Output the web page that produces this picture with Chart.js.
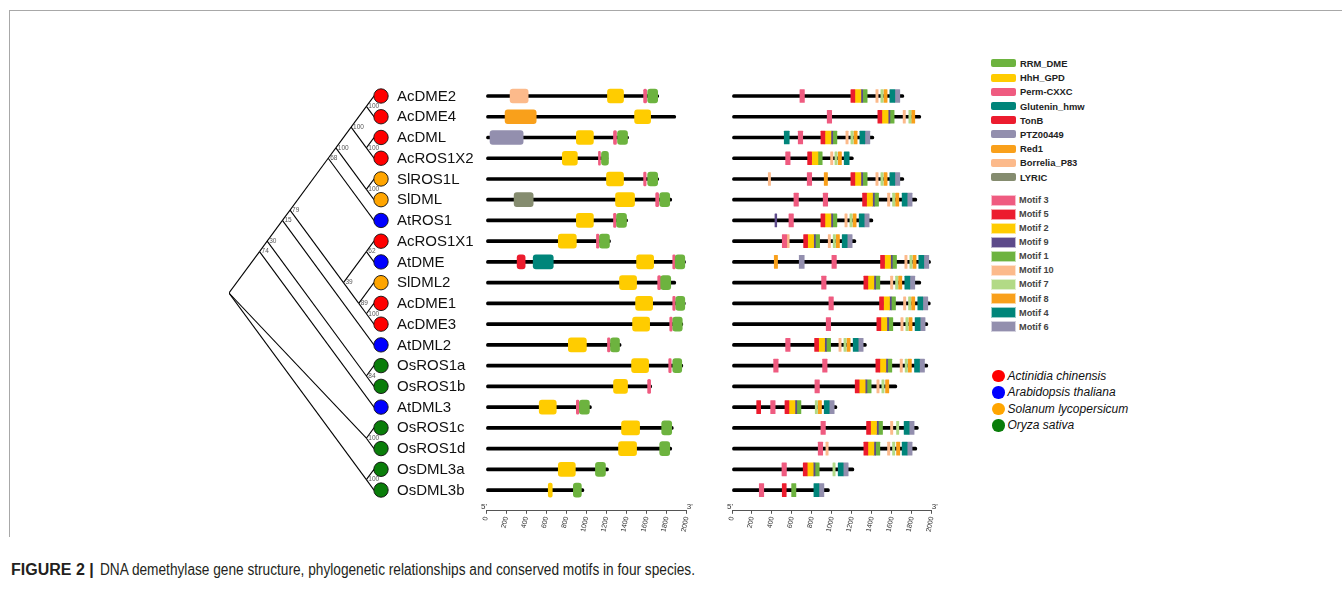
<!DOCTYPE html>
<html>
<head>
<meta charset="utf-8">
<script src="https://cdn.jsdelivr.net/npm/chart.js@4.4.1/dist/chart.umd.min.js"></script>
<style>
  body { margin: 0; background: #fff; font-family: "Liberation Sans", Arial, sans-serif; }
  canvas { position: absolute; }
  .row { position: absolute; display: flex; align-items: center; white-space: nowrap; }
  .frame { position: absolute; background: #a8a8a8; }
</style>
</head>
<body>
<div class="frame" style="left:9px;top:10px;width:1333px;height:1px"></div>
<div class="frame" style="left:9px;top:10px;width:1px;height:527px"></div>

<canvas id="tree" width="275" height="481" style="left:219px;top:70px"></canvas>
<canvas id="dom" width="221" height="481" style="left:476px;top:70px"></canvas>
<canvas id="mot" width="220" height="481" style="left:722px;top:70px"></canvas>

<div id="legend"></div>

<div id="caption" style="position:absolute;left:11px;top:562px;height:16px;line-height:16px;font-size:16px;color:#231f20">
  <span style="font-weight:bold;position:absolute;left:0;white-space:nowrap">FIGURE 2 |</span>
  <span id="capText" style="position:absolute;left:89px;white-space:nowrap;transform-origin:0 50%">DNA demethylase gene structure, phylogenetic relationships and conserved motifs in four species.</span>
</div>

<script>
// ---- data ----
const newick = "(((((((((AcDME2,AcDME4)100,(AcDML,AcROS1X2)100)100,(SlROS1L,SlDML)100)100,AtROS1)68,((AcROS1X1,AtDME)62,(SlDML2,(AcDME1,AcDME3)100)89)39)79,AtDML2)15,(OsROS1a,OsROS1b)84)30,AtDML3)74,(OsROS1c,OsROS1d)100,(OsDML3a,OsDML3b)100)";

const genes = ['AcDME2','AcDME4','AcDML','AcROS1X2','SlROS1L','SlDML','AtROS1','AcROS1X1','AtDME','SlDML2',
               'AcDME1','AcDME3','AtDML2','OsROS1a','OsROS1b','AtDML3','OsROS1c','OsROS1d','OsDML3a','OsDML3b'];
const species = ['Ac','Ac','Ac','Ac','Sl','Sl','At','Ac','At','Sl','Ac','Ac','At','Os','Os','At','Os','Os','Os','Os'];
const proteinLen = [1720,1890,1420,1215,1720,1850,1410,1240,1987,1890,1985,1960,1345,1960,1650,1050,1865,1850,1220,975];

const speciesNames = ['Actinidia chinensis','Arabidopsis thaliana','Solanum lycopersicum','Oryza sativa'];
const speciesCodes = ['Ac','At','Sl','Os'];

const domainNames = ['RRM_DME','HhH_GPD','Perm-CXXC','Glutenin_hmw','TonB','PTZ00449','Red1','Borrelia_P83','LYRIC'];
const domainHits = [
  [['Borrelia_P83',240,420],['HhH_GPD',1210,1370],['Perm-CXXC',1570,1600],['RRM_DME',1610,1710]],
  [['Red1',190,500],['HhH_GPD',1480,1640]],
  [['PTZ00449',40,370],['HhH_GPD',900,1070],['Perm-CXXC',1270,1300],['RRM_DME',1310,1410]],
  [['HhH_GPD',760,910],['Perm-CXXC',1120,1140],['RRM_DME',1150,1220]],
  [['HhH_GPD',1200,1370],['Perm-CXXC',1570,1595],['RRM_DME',1610,1710]],
  [['LYRIC',280,470],['HhH_GPD',1290,1480],['Perm-CXXC',1690,1720],['RRM_DME',1730,1830]],
  [['HhH_GPD',900,1070],['Perm-CXXC',1270,1295],['RRM_DME',1300,1400]],
  [['HhH_GPD',720,900],['Perm-CXXC',1100,1125],['RRM_DME',1130,1230]],
  [['TonB',310,390],['Glutenin_hmw',470,670],['HhH_GPD',1500,1670],['Perm-CXXC',1860,1885],['RRM_DME',1885,1980]],
  [['HhH_GPD',1330,1500],['Perm-CXXC',1710,1740],['RRM_DME',1740,1840]],
  [['HhH_GPD',1490,1660],['Perm-CXXC',1860,1885],['RRM_DME',1890,1980]],
  [['HhH_GPD',1460,1630],['Perm-CXXC',1830,1855],['RRM_DME',1860,1955]],
  [['HhH_GPD',820,1000],['Perm-CXXC',1210,1235],['RRM_DME',1240,1330]],
  [['HhH_GPD',1450,1620],['Perm-CXXC',1820,1845],['RRM_DME',1860,1950]],
  [['HhH_GPD',1270,1410],['Perm-CXXC',1610,1640]],
  [['HhH_GPD',530,700],['Perm-CXXC',900,925],['RRM_DME',930,1030]],
  [['HhH_GPD',1350,1530],['RRM_DME',1750,1850]],
  [['HhH_GPD',1320,1500],['RRM_DME',1730,1830]],
  [['HhH_GPD',720,890],['RRM_DME',1090,1190]],
  [['HhH_GPD',620,660],['RRM_DME',870,950]]
];

const motifOrder = [3,5,2,9,1,10,7,8,4,6];
const motifLen = {1:43, 2:60, 3:45, 4:50, 5:40, 6:50, 7:23, 8:33, 9:18, 10:23};
const motifHits = [
  [[3,680],[5,1190],[2,1230],[9,1290],[1,1310],[10,1440],[7,1490],[8,1520],[4,1580],[6,1630]],
  [[3,953],[5,1460],[2,1503],[9,1563],[1,1580],[10,1713],[7,1770],[8,1797]],
  [[4,523],[3,663],[5,890],[2,930],[9,990],[1,1007],[10,1140],[7,1190],[8,1220],[4,1280],[6,1330]],
  [[3,537],[5,757],[2,800],[1,860],[10,987],[7,1030],[8,1063],[4,1123]],
  [[10,363],[3,753],[8,923],[5,1190],[2,1230],[9,1290],[1,1310],[10,1440],[7,1490],[8,1520],[4,1580],[6,1630]],
  [[3,620],[3,913],[5,1307],[2,1347],[9,1407],[1,1424],[10,1557],[7,1607],[8,1637],[4,1703],[6,1753]],
  [[9,430],[3,570],[5,890],[2,930],[9,990],[1,1007],[10,1130],[7,1180],[8,1210],[4,1273],[6,1323]],
  [[3,503],[10,550],[5,717],[2,757],[9,817],[1,834],[10,963],[7,1013],[8,1043],[4,1103],[6,1153]],
  [[8,423],[6,673],[3,1000],[5,1487],[2,1527],[9,1587],[1,1604],[10,1730],[7,1780],[8,1810],[4,1870],[6,1920]],
  [[3,897],[5,1320],[2,1360],[9,1420],[1,1437],[10,1587],[7,1637],[8,1667],[4,1730],[6,1780]],
  [[3,970],[5,1477],[2,1517],[9,1577],[1,1594],[10,1717],[7,1767],[8,1797],[4,1860],[6,1910]],
  [[3,943],[5,1450],[2,1490],[9,1550],[1,1567],[10,1690],[7,1740],[8,1770],[4,1833],[6,1883]],
  [[3,537],[5,827],[2,867],[9,927],[1,944],[10,1070],[7,1120],[8,1150],[4,1213],[6,1263]],
  [[3,417],[3,907],[5,1440],[2,1480],[9,1540],[1,1557],[10,1683],[7,1733],[8,1763],[4,1827],[6,1877]],
  [[3,830],[5,1233],[2,1273],[9,1333],[1,1350],[10,1450],[7,1500],[8,1537]],
  [[5,247],[3,387],[5,530],[2,570],[9,630],[1,647],[7,833],[8,863],[4,923],[6,973]],
  [[3,890],[5,1347],[2,1387],[9,1447],[1,1464],[10,1587],[7,1647],[4,1723],[6,1773]],
  [[3,863],[10,940],[5,1320],[2,1360],[9,1420],[1,1437],[10,1557],[7,1607],[8,1647],[4,1703],[6,1753]],
  [[3,500],[5,713],[2,753],[9,813],[1,830],[7,1010],[4,1063],[6,1113]],
  [[3,273],[5,503],[1,597],[4,820],[6,870]]
];

// ---- styles ----
const FONT = '"Liberation Sans", Arial, sans-serif';
const speciesColor = { Ac: '#ff0000', At: '#0000ff', Sl: '#ffa500', Os: '#0a7d0a' };
const domainColor = {
  'RRM_DME': '#6db33f', 'HhH_GPD': '#ffcc00', 'Perm-CXXC': '#ef5b80', 'Glutenin_hmw': '#00857a',
  'TonB': '#ec1c2e', 'PTZ00449': '#938fae', 'Red1': '#f9a01b', 'Borrelia_P83': '#fcba8b', 'LYRIC': '#858c6f'
};
const motifColor = { 3: '#ef5b80', 5: '#ec1c2e', 2: '#ffcc00', 9: '#5d4a8a', 1: '#6db33f',
                     10: '#fcba8b', 7: '#b2da86', 8: '#f9a01b', 4: '#00857a', 6: '#938fae' };

const ROW0 = 96, ROWH = 20.74, CANVAS_TOP = 70, CANVAS_H = 481, AXIS_H = 30;
const padTop = ROW0 - 0.5 * ROWH - CANVAS_TOP;
const areaH = 20.5 * ROWH;

// ---- tree layout (slanted cladogram) ----
function parseNewick(s) {
  let i = 0;
  function node() {
    if (s[i] === '(') {
      i++;
      const kids = [node()];
      while (s[i] === ',') { i++; kids.push(node()); }
      i++;
      let boot = '';
      while (i < s.length && /[0-9]/.test(s[i])) boot += s[i++];
      return { kids, boot };
    }
    let name = '';
    while (i < s.length && !/[,()]/.test(s[i])) name += s[i++];
    return { name };
  }
  return node();
}

const root = parseNewick(newick);
let leafCount = 0;
const inner = [];
(function place(n) {
  if (!n.kids) { n.lo = n.hi = leafCount++; }
  else {
    n.kids.forEach(place);
    n.lo = n.kids[0].lo;
    n.hi = n.kids[n.kids.length - 1].hi;
    inner.push(n);
  }
  n.y = (n.lo + n.hi) / 2;
  n.x = (n.hi - n.lo) / 2;
})(root);

const edgeSets = [];
inner.forEach(n => n.kids.forEach(k => edgeSets.push({
  data: [{ x: n.x, y: n.y }, { x: k.x, y: k.y }],
  showLine: true, borderColor: '#000', borderWidth: 1.1, pointRadius: 0
})));

const treeLabels = {
  id: 'treeLabels',
  afterDatasetsDraw(chart) {
    const { ctx, scales: { x, y } } = chart;
    ctx.save();
    ctx.font = '6.5px ' + FONT;
    ctx.fillStyle = '#555';
    ctx.textAlign = 'left';
    ctx.textBaseline = 'middle';
    inner.forEach(n => { if (n.boot) ctx.fillText(n.boot, x.getPixelForValue(n.x) + 2, y.getPixelForValue(n.y)); });
    const cx = x.getPixelForValue(0) + 7;
    genes.forEach((g, i) => {
      const cy = y.getPixelForValue(i);
      ctx.beginPath();
      ctx.arc(cx, cy, 7.2, 0, Math.PI * 2);
      ctx.fillStyle = speciesColor[species[i]];
      ctx.fill();
      ctx.lineWidth = 0.9;
      ctx.strokeStyle = '#111';
      ctx.stroke();
      ctx.fillStyle = '#111';
      ctx.font = '15px ' + FONT;
      ctx.fillText(g, cx + 16, cy + 0.5);
    });
    ctx.restore();
  }
};

new Chart(document.getElementById('tree'), {
  type: 'scatter',
  data: { datasets: edgeSets },
  options: {
    responsive: false, animation: false, events: [],
    layout: { autoPadding: false, padding: { left: 10, right: 120, top: padTop, bottom: CANVAS_H - padTop - areaH } },
    plugins: { legend: { display: false }, tooltip: { enabled: false } },
    scales: {
      x: { type: 'linear', min: 0, max: 9.5, reverse: true, display: false },
      y: { type: 'linear', min: -0.5, max: 20, reverse: true, display: false }
    }
  },
  plugins: [treeLabels]
});

// ---- domain and motif panels ----
function boxSets(keys, colorOf, hitsPerGene, spanOf, thick, radius) {
  const sets = keys.map(k => ({
    label: String(k), data: [], backgroundColor: colorOf[k],
    barThickness: thick, borderRadius: radius, borderSkipped: false, grouped: false, order: 1
  }));
  hitsPerGene.forEach((hits, i) => hits.forEach(h => {
    const [k, s, e] = spanOf(h);
    sets[keys.indexOf(k)].data.push({ x: [s, e], y: i });
  }));
  sets.push({
    label: 'protein', data: proteinLen.map((L, i) => ({ x: [0, L], y: i })),
    backgroundColor: '#000', barThickness: 3, borderRadius: 1.5, borderSkipped: false, grouped: false, order: 5
  });
  return sets;
}

const primes = {
  id: 'primes',
  afterDraw(chart) {
    const { ctx, scales: { x } } = chart;
    ctx.save();
    ctx.font = '8px ' + FONT;
    ctx.fillStyle = '#333';
    ctx.textAlign = 'center';
    ctx.textBaseline = 'bottom';
    ctx.fillText("5'", x.getPixelForValue(0) - 2, x.top);
    ctx.fillText("3'", x.getPixelForValue(2000) + 3, x.top);
    ctx.restore();
  }
};

function panel(id, datasets, padX) {
  new Chart(document.getElementById(id), {
    type: 'bar',
    data: { datasets },
    options: {
      indexAxis: 'y',
      responsive: false, animation: false, events: [],
      layout: { autoPadding: false, padding: { left: padX, right: padX, top: padTop, bottom: CANVAS_H - padTop - areaH - AXIS_H } },
      plugins: { legend: { display: false }, tooltip: { enabled: false } },
      scales: {
        y: { type: 'linear', min: -0.5, max: 20, reverse: true, offset: false, grace: 0, display: false },
        x: {
          type: 'linear', min: 0, max: 2000, offset: false,
          ticks: { stepSize: 200, autoSkip: false, minRotation: 78, maxRotation: 78, padding: 2,
                   color: '#333', font: { family: FONT, size: 7 }, callback: v => String(v) },
          grid: { display: true, drawOnChartArea: false, drawTicks: true, tickLength: 3, color: '#555' },
          border: { display: true, color: '#555', width: 1 },
          afterFit(s) { s.height = AXIS_H; }
        }
      }
    },
    plugins: [primes]
  });
}

panel('dom', boxSets(domainNames, domainColor, domainHits, h => h, 14, 3), 10);
panel('mot', boxSets(motifOrder, motifColor, motifHits, h => [h[0], h[1], h[1] + motifLen[h[0]]], 13, 0.5), 10);

// ---- legends ----
const lg = document.getElementById('legend');
domainNames.forEach((n, i) => {
  lg.insertAdjacentHTML('beforeend',
    `<div class="row" style="left:991px;top:${63.4 + i * 14.2 - 6}px;height:12px">
       <div style="width:25px;height:8px;border-radius:2px;background:${domainColor[n]}"></div>
       <div style="margin-left:4px;font-weight:bold;font-size:9.4px;color:#222">${n}</div></div>`);
});
motifOrder.forEach((m, i) => {
  lg.insertAdjacentHTML('beforeend',
    `<div class="row" style="left:991px;top:${200 + i * 14.08 - 6}px;height:12px">
       <div style="width:25px;height:11px;background:${motifColor[m]};box-sizing:border-box;border:1px solid rgba(255,255,255,0.6)"></div>
       <div style="margin-left:3px;font-weight:bold;font-size:9.2px;color:#444">Motif ${m}</div></div>`);
});
speciesNames.forEach((n, i) => {
  lg.insertAdjacentHTML('beforeend',
    `<div class="row" style="left:992px;top:${375.8 + i * 16.5 - 8}px;height:16px">
       <div style="width:12.5px;height:12.5px;border-radius:50%;background:${speciesColor[speciesCodes[i]]}"></div>
       <div style="margin-left:3px;font-style:italic;font-size:12px;color:#111">${n}</div></div>`);
});

// fit the caption text to its printed width
const cap = document.getElementById('capText');
cap.style.transform = 'scaleX(' + (595 / cap.getBoundingClientRect().width) + ')';
</script>
</body>
</html>
